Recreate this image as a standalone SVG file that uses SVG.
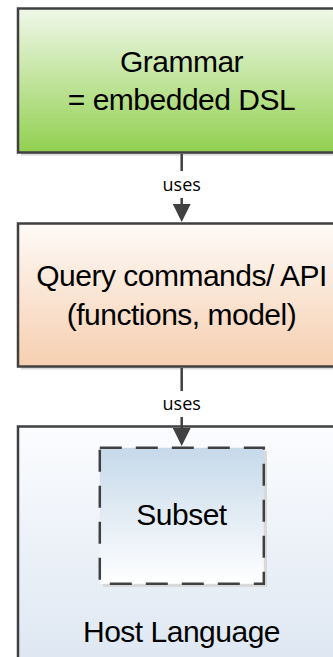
<svg xmlns="http://www.w3.org/2000/svg" width="333" height="657" viewBox="0 0 333 657">
  <defs>
    <linearGradient id="gGreen" x1="0" y1="0" x2="0" y2="1">
      <stop offset="0" stop-color="#f0f8e9"/>
      <stop offset="1" stop-color="#92d050"/>
    </linearGradient>
    <linearGradient id="gPeach" x1="0" y1="0" x2="0" y2="1">
      <stop offset="0" stop-color="#fefaf7"/>
      <stop offset="1" stop-color="#f6cfb0"/>
    </linearGradient>
    <linearGradient id="gHost" x1="0" y1="0" x2="0" y2="1">
      <stop offset="0" stop-color="#fbfcfe"/>
      <stop offset="1" stop-color="#dbe5f1"/>
    </linearGradient>
    <linearGradient id="gSubset" x1="0" y1="0" x2="0" y2="1">
      <stop offset="0" stop-color="#c6d9ea"/>
      <stop offset="1" stop-color="#ffffff"/>
    </linearGradient>
    <marker id="arrow" markerUnits="userSpaceOnUse" markerWidth="18" markerHeight="18"
            viewBox="0 0 18 18" refX="8" refY="9" orient="auto">
      <path d="M0,0 L18,9 L0,18 z" fill="#404040"/>
    </marker>
    <style>
      .box { stroke: #404040; stroke-width: 2.5; }
      .shadow { fill: #d9d9d9; }
      .dashed { stroke-dasharray: 22 14; }
      .title { font-family: "Liberation Sans", Arial, sans-serif; font-size: 30px; letter-spacing: -0.5px; fill: #000; text-anchor: middle; }
      .label { font-family: "Open Sans", "Noto Sans", sans-serif; font-size: 18px; fill: #000; text-anchor: middle; }
      .conn { stroke: #404040; stroke-width: 2.5; fill: none; }
    </style>
  </defs>

  <rect width="333" height="657" fill="#ffffff"/>

  <!-- Grammar node -->
  <g id="grammar">
    <rect class="shadow" x="21" y="11.5" width="328" height="144"/>
    <rect class="box" x="18" y="8.5" width="328" height="144" fill="url(#gGreen)"/>
    <text class="title" x="181.5" y="72">Grammar</text>
    <text class="title" x="181.5" y="110">= embedded DSL</text>
  </g>

  <!-- Query commands / API node -->
  <g id="query-api">
    <rect class="shadow" x="21" y="226.5" width="328" height="143"/>
    <rect class="box" x="18" y="223.5" width="328" height="143" fill="url(#gPeach)"/>
    <text class="title" x="181.5" y="285.5">Query commands/ API</text>
    <text class="title" x="181.5" y="325">(functions, model)</text>
  </g>

  <!-- Host language node containing the subset -->
  <g id="host-language">
    <rect class="shadow" x="21" y="429.5" width="328" height="260"/>
    <rect class="box" x="18" y="426.5" width="328" height="260" fill="url(#gHost)"/>
    <text class="title" x="181.5" y="642">Host Language</text>
  </g>

  <g id="subset">
    <rect class="shadow" x="103" y="451" width="164" height="136"/>
    <rect class="box dashed" x="99.8" y="447.8" width="164" height="136" fill="url(#gSubset)"/>
    <text class="title" x="181.5" y="525">Subset</text>
  </g>

  <!-- Connectors -->
  <g id="connectors">
    <g id="grammar-uses-query">
      <line class="conn" x1="181.7" y1="154" x2="181.7" y2="212" marker-end="url(#arrow)"/>
      <rect x="158" y="171" width="48" height="27" fill="#ffffff"/>
      <text class="label" x="181.7" y="191">uses</text>
    </g>
    <g id="query-uses-subset">
      <line class="conn" x1="181.7" y1="368" x2="181.7" y2="436" marker-end="url(#arrow)"/>
      <rect x="158" y="391" width="48" height="26" fill="#ffffff"/>
      <text class="label" x="181.7" y="410">uses</text>
    </g>
  </g>
</svg>
